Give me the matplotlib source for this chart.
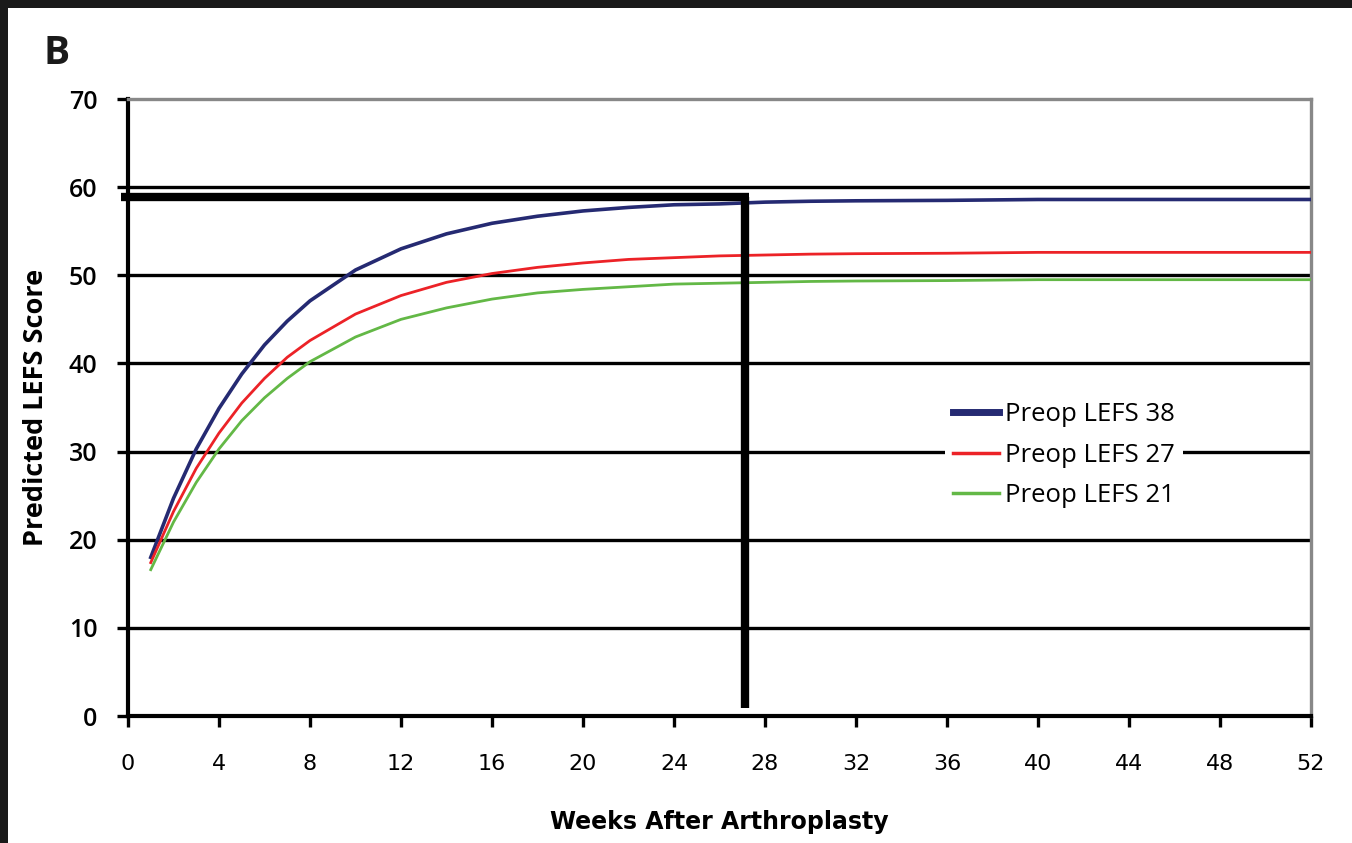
import numpy as np
import matplotlib
matplotlib.use("Agg")
import matplotlib.pyplot as plt
from matplotlib.patches import Rectangle

# values
weeks = [1, 2, 3, 4, 5, 6, 7, 8, 10, 12, 14, 16, 18, 20, 22, 24, 26, 28, 30, 32, 36, 40, 44, 48, 52]
lefs38 = [18.0, 24.7, 30.3, 34.9, 38.8, 42.1, 44.8, 47.1, 50.6, 53.0, 54.7, 55.9, 56.7, 57.3, 57.7, 58.0,
          58.1, 58.3, 58.4, 58.45, 58.5, 58.6, 58.6, 58.6, 58.6]
lefs27 = [17.4, 23.2, 28.1, 32.1, 35.5, 38.3, 40.7, 42.6, 45.6, 47.7, 49.2, 50.2, 50.9, 51.4, 51.8, 52.0,
          52.2, 52.3, 52.4, 52.45, 52.5, 52.6, 52.6, 52.6, 52.6]
lefs21 = [16.6, 22.0, 26.5, 30.3, 33.5, 36.1, 38.3, 40.2, 43.0, 45.0, 46.3, 47.3, 48.0, 48.4, 48.7, 49.0,
          49.1, 49.2, 49.3, 49.35, 49.4, 49.5, 49.5, 49.5, 49.5]
labels = ["Preop LEFS 38", "Preop LEFS 27", "Preop LEFS 21"]
colors = ["#252a72", "#ec2227", "#63b846"]

grid_levels = [10, 20, 30, 40, 50, 60]
ref_week = 27.1
ref_score = 58.9
ref_start = -0.3
ref_bottom = 0.9

fig = plt.figure(figsize=(13.52, 8.43), dpi=100)
fig.patch.set_facecolor("#1a1a1a")
fig.patches.append(Rectangle((8 / 1352, 0), 1, 1 - 8 / 843, transform=fig.transFigure,
                             facecolor="white", edgecolor="none", zorder=-1))

ax = fig.add_axes([128 / 1352, 1 - 716 / 843, (1311 - 128) / 1352, (716 - 99) / 843])
ax.set_xlim(0, 52)
ax.set_ylim(0, 70)

for g in grid_levels:
    ax.axhline(g, color="black", lw=2.4, zorder=1)

ax.plot(weeks, lefs38, color=colors[0], lw=2.6, label=labels[0], zorder=3)
ax.plot(weeks, lefs27, color=colors[1], lw=2.0, label=labels[1], zorder=3)
ax.plot(weeks, lefs21, color=colors[2], lw=2.0, label=labels[2], zorder=3)

# reference lines at 27 weeks
ax.plot([ref_start, ref_week + 0.18], [ref_score, ref_score], color="black", lw=6,
        solid_capstyle="butt", clip_on=False, zorder=4)
ax.plot([ref_week, ref_week], [ref_bottom, ref_score], color="black", lw=6,
        solid_capstyle="butt", zorder=4)

for side in ["left", "bottom"]:
    ax.spines[side].set_color("black")
    ax.spines[side].set_linewidth(3)
for side in ["top", "right"]:
    ax.spines[side].set_color("#888888")
    ax.spines[side].set_linewidth(2.4)

ax.set_xticks(np.arange(0, 53, 4))
ax.set_yticks(np.arange(0, 71, 10))
ax.tick_params(axis="both", direction="out", length=8, width=2.4, color="black")
ax.tick_params(axis="y", pad=14)
ax.tick_params(axis="x", pad=19)
for t in ax.get_yticklabels():
    t.set_fontfamily(["Open Sans", "DejaVu Sans"])
    t.set_fontweight("semibold")
    t.set_fontsize(18)
for t in ax.get_xticklabels():
    t.set_fontfamily(["DejaVu Sans"])
    t.set_fontsize(16)

ax.set_xlabel("Weeks After Arthroplasty", family=["DejaVu Sans"],
              fontweight="bold", fontsize=17, labelpad=26)
ax.set_ylabel("Predicted LEFS Score", family=["Open Sans", "DejaVu Sans"],
              fontweight="bold", fontsize=19.5, labelpad=14)

leg = ax.legend(loc="center left", bbox_to_anchor=((945 - 128) / 1183, (716 - 455) / 617),
                borderaxespad=0, borderpad=0.3, frameon=True, fancybox=False,
                handlelength=1.8, handletextpad=0.25, labelspacing=0.6,
                prop={"family": ["Open Sans", "DejaVu Sans"], "size": 18.5})
leg.get_frame().set_facecolor("white")
leg.get_frame().set_edgecolor("none")
leg.get_frame().set_alpha(1)
leg.get_lines()[0].set_linewidth(5)
leg.get_lines()[1].set_linewidth(2.5)
leg.get_lines()[2].set_linewidth(2.5)
leg.set_zorder(5)

fig.text(57 / 1352, 1 - 53 / 843, "B", family=["Open Sans", "DejaVu Sans"], fontweight="bold",
         fontsize=28, ha="center", va="center", color="#1a1a1a")

fig.savefig("out.png", dpi=100, facecolor=fig.get_facecolor())
